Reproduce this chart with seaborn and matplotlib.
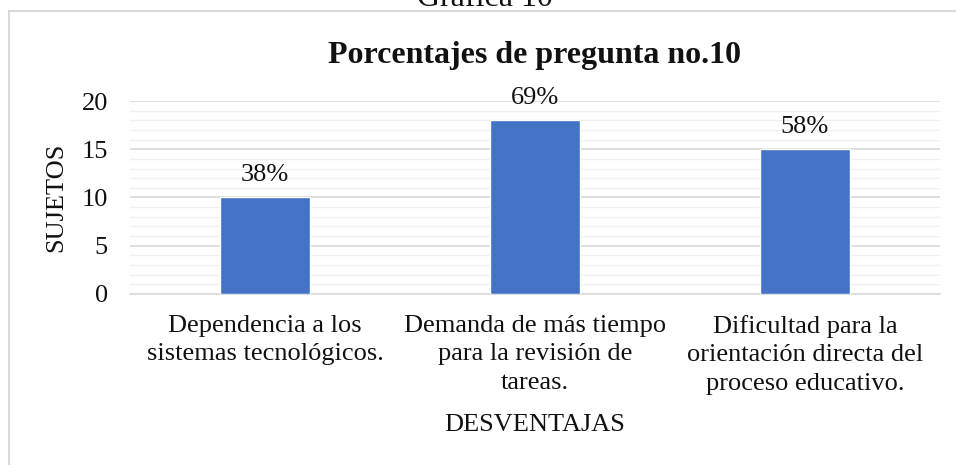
import matplotlib
matplotlib.use('Agg')
import matplotlib.pyplot as plt
from matplotlib.lines import Line2D
from matplotlib.ticker import MultipleLocator
import seaborn as sns
import pandas as pd

# datos de la gráfica
categorias = ["Dependencia a los\nsistemas tecnológicos.",
              "Demanda de más tiempo\npara la revisión de\ntareas.",
              "Dificultad para la\norientación directa del\nproceso educativo."]
sujetos = [10, 18, 15]
porcentajes = ["38%", "69%", "58%"]

sns.set_theme(style="white")
plt.rcParams['font.family'] = ['Liberation Serif', 'DejaVu Serif']

df = pd.DataFrame({'DESVENTAJAS': categorias, 'SUJETOS': sujetos})

fig = plt.figure(figsize=(9.56, 4.65), dpi=100)
ax = fig.add_axes([130 / 956, 1 - 294 / 465, 810 / 956, 193 / 465])

sns.barplot(data=df, x='DESVENTAJAS', y='SUJETOS', color='#4472C4',
            saturation=1, width=0.333, ax=ax, zorder=3)

ax.bar_label(ax.containers[0], labels=porcentajes, padding=8, fontsize=19, color='#111111')

ax.set_ylim(0, 20)
ax.yaxis.set_major_locator(MultipleLocator(5))
ax.yaxis.set_minor_locator(MultipleLocator(1))
ax.grid(which='major', axis='y', color='#d9d9d9', linewidth=1.2, zorder=0)
ax.grid(which='minor', axis='y', color='#f0f0f0', linewidth=1.0, zorder=0)
ax.set_axisbelow(True)
for s in ['top', 'right', 'left']:
    ax.spines[s].set_visible(False)
ax.spines['bottom'].set_color('#d9d9d9')
ax.spines['bottom'].set_linewidth(1.2)

ax.tick_params(axis='y', which='both', length=0, pad=16, labelsize=19, labelcolor='#111111')
ax.tick_params(axis='x', length=0, pad=15, labelsize=19, labelcolor='#111111')
for t in ax.get_xticklabels():
    t.set_linespacing(1.38)

ax.set_xlabel('DESVENTAJAS', fontsize=19, color='#111111', labelpad=14)
ax.set_ylabel('SUJETOS', fontsize=19, color='#111111', labelpad=10)

ax.set_title('Porcentajes de pregunta no.10', fontsize=23, fontweight='bold',
             color='#111111', pad=27)

# titulo de la figura (cortado arriba, como en el original)
fig.text(485 / 956, 1 - 6 / 465, 'Gráfica 10', ha='center', va='baseline',
         fontsize=23, color='#111111')

# borde del area del grafico
fig.add_artist(Line2D([9 / 956, 9 / 956], [0, 1 - 11 / 465], transform=fig.transFigure,
                      color='#d9d9d9', linewidth=1.5))
fig.add_artist(Line2D([9 / 956, 1], [1 - 11 / 465, 1 - 11 / 465], transform=fig.transFigure,
                      color='#d9d9d9', linewidth=1.5))

fig.savefig('out.png', dpi=100)
